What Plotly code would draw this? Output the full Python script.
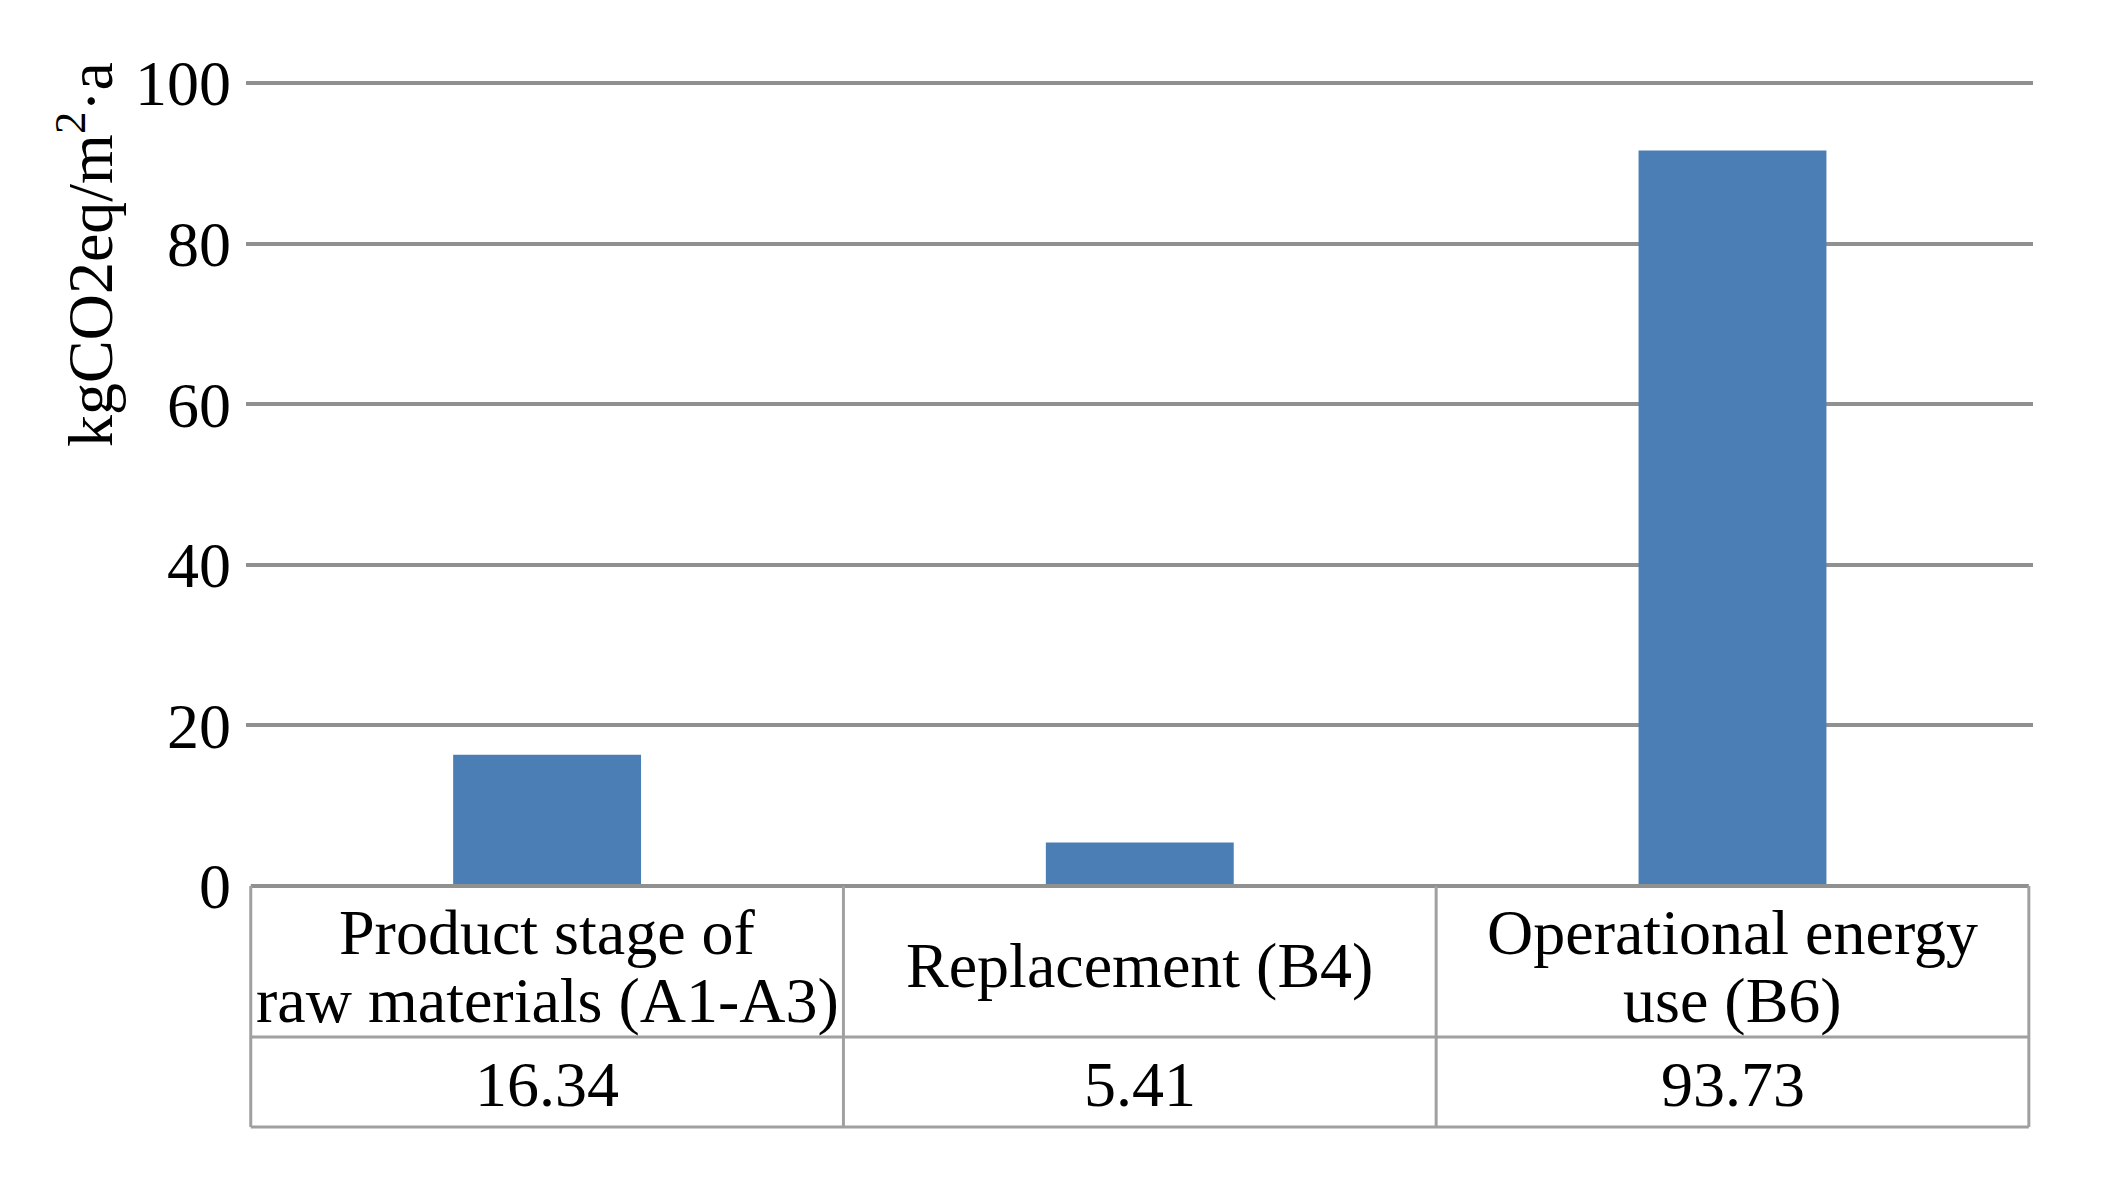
import plotly.graph_objects as go

# ---- data ----
categories = ["Product stage of raw materials (A1-A3)", "Replacement (B4)", "Operational energy use (B6)"]
category_lines = [["Product stage of", "raw materials (A1-A3)"], ["Replacement (B4)"], ["Operational energy", "use (B6)"]]
bar_values = [16.34, 5.41, 91.6]          # bar heights as drawn in the picture
table_values = ["16.34", "5.41", "93.73"]  # numbers printed in the data table
y_ticks = [0, 20, 40, 60, 80, 100]
y_title = "kgCO2eq/m<sup>2</sup>·a"

FONT = "Liberation Serif, Times New Roman, serif"
FS = 64
BAR_COLOR = "#4a7eb4"
GRID_COLOR = "#909090"
TABLE_COLOR = "#a0a0a0"

fig = go.Figure()
fig.add_trace(go.Bar(
    x=list(range(len(categories))), y=bar_values,
    marker=dict(color=BAR_COLOR, line=dict(width=0)),
    width=0.317, hovertext=categories,
))

# table geometry (paper y below the plot)
y_mid = -0.1871
y_bot = -0.2986
shapes = []
n = len(categories)
shapes.append(dict(type="line", xref="x", yref="paper", x0=-0.5, x1=n - 0.5, y0=0, y1=0,
                   line=dict(color=GRID_COLOR, width=4), layer="above"))
for yy in (y_mid, y_bot):
    shapes.append(dict(type="line", xref="x", yref="paper", x0=-0.5, x1=n - 0.5, y0=yy, y1=yy,
                       line=dict(color=TABLE_COLOR, width=3), layer="above"))
for i in range(n + 1):
    shapes.append(dict(type="line", xref="x", yref="paper", x0=i - 0.5, x1=i - 0.5, y0=0, y1=y_bot,
                       line=dict(color=TABLE_COLOR, width=3), layer="above"))

annotations = []
line_pos = {1: [-0.0991], 2: [-0.0582, -0.1413]}
for i, lines in enumerate(category_lines):
    for txt, yy in zip(lines, line_pos[len(lines)]):
        annotations.append(dict(x=i, y=yy, xref="x", yref="paper", text=txt, showarrow=False,
                                xanchor="center", yanchor="middle",
                                font=dict(family=FONT, size=FS, color="black")))
    annotations.append(dict(x=i, y=-0.2454, xref="x", yref="paper", text=table_values[i], showarrow=False,
                            xanchor="center", yanchor="middle",
                            font=dict(family=FONT, size=FS, color="black")))

annotations.append(dict(x=-0.0895, y=0.782, xref="paper", yref="paper", text=y_title, showarrow=False,
                        textangle=-90, xanchor="center", yanchor="middle",
                        font=dict(family=FONT, size=FS, color="black")))

fig.update_layout(
    width=2104, height=1202,
    margin=dict(l=238, r=79, t=71, b=324, pad=0),
    paper_bgcolor="white", plot_bgcolor="white",
    showlegend=False,
    shapes=shapes, annotations=annotations,
    xaxis=dict(range=[-0.508, 2.507], showticklabels=False, showgrid=False, zeroline=False,
               showline=False, ticks=""),
    yaxis=dict(range=[0, 100.5], tickvals=y_ticks, showgrid=True, gridcolor=GRID_COLOR, gridwidth=4,
               zeroline=False, showline=False, ticks="", ticklabelstandoff=14,
               tickfont=dict(family=FONT, size=FS, color="black")),
)

fig.write_html("out.html")
